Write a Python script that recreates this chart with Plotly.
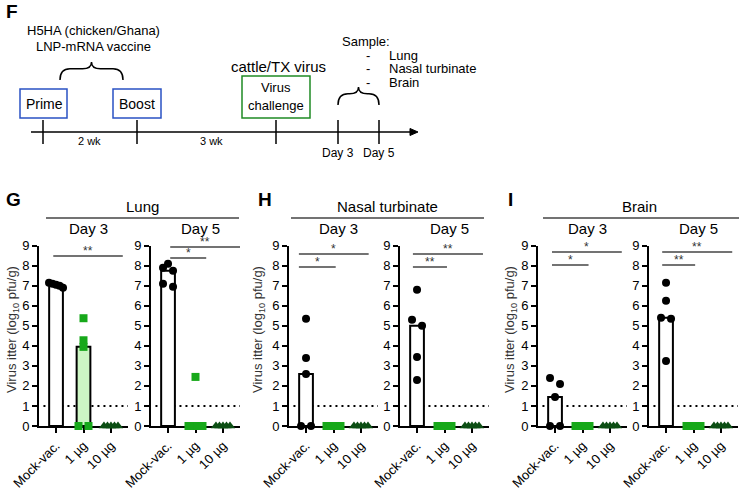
import numpy as np
import plotly.graph_objects as go

FONT = "Liberation Sans, Arial, Helvetica, sans-serif"
W, H = 739, 490

categories = ["Mock-vac.", "1 µg", "10 µg"]
tissues = ["Lung", "Nasal turbinate", "Brain"]
letters = ["G", "H", "I"]
days = ["Day 3", "Day 5"]

# log10 pfu/g per mouse
lung_d3_mock = [7.15, 7.1, 7.05, 7.0, 6.9]
lung_d3_1ug = [5.38, 4.28, 3.95, 0.0, 0.0]
lung_d3_10ug = [0.0, 0.0, 0.0, 0.0, 0.0]
lung_d5_mock = [8.1, 7.9, 7.75, 7.1, 6.95]
lung_d5_1ug = [2.45, 0.0, 0.0, 0.0, 0.0]
lung_d5_10ug = [0.0, 0.0, 0.0, 0.0, 0.0]

nasal_d3_mock = [5.35, 3.4, 2.6, 0.0, 0.0]
nasal_d3_1ug = [0.0, 0.0, 0.0, 0.0, 0.0]
nasal_d3_10ug = [0.0, 0.0, 0.0, 0.0, 0.0]
nasal_d5_mock = [6.8, 5.3, 5.0, 3.45, 2.3]
nasal_d5_1ug = [0.0, 0.0, 0.0, 0.0, 0.0]
nasal_d5_10ug = [0.0, 0.0, 0.0, 0.0, 0.0]

brain_d3_mock = [2.4, 2.1, 1.45, 0.0, 0.0]
brain_d3_1ug = [0.0, 0.0, 0.0, 0.0, 0.0]
brain_d3_10ug = [0.0, 0.0, 0.0, 0.0, 0.0]
brain_d5_mock = [7.15, 6.25, 5.4, 5.35, 3.25]
brain_d5_1ug = [0.0, 0.0, 0.0, 0.0, 0.0]
brain_d5_10ug = [0.0, 0.0, 0.0, 0.0, 0.0]

detection_limit = 1.0

# significance brackets: (label, level, x-start, x-end)
sig_lung_d3 = [("**", 8.49, -0.1, 2.43)]
sig_lung_d5 = [("**", 8.94, 0.08, 2.63), ("*", 8.39, 0.08, 1.39)]
sig_nasal_d3 = [("*", 8.59, -0.26, 2.28), ("*", 7.94, -0.26, 1.08)]
sig_nasal_d5 = [("**", 8.59, -0.15, 2.4), ("**", 7.94, -0.15, 1.09)]
sig_brain_d3 = [("*", 8.69, -0.11, 2.43), ("*", 8.04, -0.11, 1.22)]
sig_brain_d5 = [("**", 8.69, -0.14, 2.41), ("**", 8.04, -0.14, 1.06)]

panels = [
    ([lung_d3_mock, lung_d3_1ug, lung_d3_10ug], sig_lung_d3),
    ([lung_d5_mock, lung_d5_1ug, lung_d5_10ug], sig_lung_d5),
    ([nasal_d3_mock, nasal_d3_1ug, nasal_d3_10ug], sig_nasal_d3),
    ([nasal_d5_mock, nasal_d5_1ug, nasal_d5_10ug], sig_nasal_d5),
    ([brain_d3_mock, brain_d3_1ug, brain_d3_10ug], sig_brain_d3),
    ([brain_d5_mock, brain_d5_1ug, brain_d5_10ug], sig_brain_d5),
]

point_colors = ["#000000", "#17a81a", "#0c4f14"]
point_symbols = ["circle", "square", "triangle-up"]
point_sizes = [8, 8, 9]
bar_fills = ["#ffffff", "#cdf6c4", "#0c4f14"]

# layout in pixels
axis_left = [39, 151, 289, 400, 538, 649]
axis_w = 89
y_bottom, y_top = 426, 245.7
xr = (-0.62, 2.62)
unit_px = axis_w / (xr[1] - xr[0])


def px(x):
    return x / W


def py(y):
    return 1 - y / H


def spread(vals):
    # crude beeswarm: points with close values are spread sideways
    vals = np.asarray(vals, dtype=float)
    order = np.argsort(-vals, kind="stable")
    offs = np.zeros(len(vals))
    clusters, cur = [], [order[0]]
    for a, b in zip(order[:-1], order[1:]):
        if vals[a] - vals[b] < 0.32:
            cur.append(b)
        else:
            clusters.append(cur)
            cur = [b]
    clusters.append(cur)
    for c in clusters:
        n = len(c)
        if n == 1:
            continue
        if n == 3:
            pos = [0, -5, 5]
        elif n == 2:
            pos = [-5, 5]
        else:
            pos = np.linspace(-7, 7, n)
        for i, p in zip(c, pos):
            offs[i] = p / unit_px
    return offs


fig = go.Figure()
shapes = []
annotations = []

for k, (series, sigs) in enumerate(panels):
    ax = "" if k == 0 else str(k + 1)
    xa, ya = "x" + ax, "y" + ax
    medians = [float(np.median(s)) for s in series]
    fig.add_trace(
        go.Bar(
            x=[0, 1, 2],
            y=medians,
            width=0.5,
            marker=dict(color=bar_fills, line=dict(color="black", width=2)),
            xaxis=xa,
            yaxis=ya,
            showlegend=False,
            hoverinfo="skip",
        )
    )
    for g, s in enumerate(series):
        fig.add_trace(
            go.Scatter(
                x=g + spread(s),
                y=s,
                mode="markers",
                marker=dict(
                    color=point_colors[g],
                    symbol=point_symbols[g],
                    size=point_sizes[g],
                    line=dict(width=0),
                ),
                cliponaxis=False,
                xaxis=xa,
                yaxis=ya,
                showlegend=False,
            )
        )
    x0 = axis_left[k]
    fig.update_layout(
        {
            "xaxis" + ax: dict(
                domain=[px(x0), px(x0 + axis_w)],
                range=list(xr),
                tickvals=[0, 1, 2],
                ticktext=categories,
                tickangle=-45,
                ticks="outside",
                ticklen=5,
                tickwidth=2,
                tickcolor="black",
                showline=True,
                linewidth=2,
                linecolor="black",
                showgrid=False,
                zeroline=False,
                automargin=False,
                anchor=ya,
                layer="below traces",
                tickfont=dict(size=13, color="black"),
            ),
            "yaxis" + ax: dict(
                domain=[py(y_bottom), py(y_top)],
                range=[0, 9],
                tick0=0,
                dtick=1,
                ticks="outside",
                ticklen=5,
                tickwidth=2,
                tickcolor="black",
                showline=True,
                linewidth=2,
                linecolor="black",
                showgrid=False,
                zeroline=False,
                automargin=False,
                anchor=xa,
                tickfont=dict(size=13, color="black"),
            ),
        }
    )
    # limit of detection
    shapes.append(
        dict(
            type="line", xref=xa + " domain", yref=ya,
            x0=0.05, x1=1, y0=detection_limit, y1=detection_limit,
            line=dict(color="black", width=2, dash="2px,4px"), layer="below",
        )
    )
    for label, lev, s0, s1 in sigs:
        shapes.append(
            dict(type="line", xref=xa, yref=ya, x0=s0, x1=s1, y0=lev, y1=lev,
                 line=dict(color="#444444", width=1.5))
        )
        annotations.append(
            dict(xref=xa, yref=ya, x=(s0 + s1) / 2, y=lev, text=label,
                 showarrow=False, xanchor="center", yanchor="bottom", yshift=-4,
                 font=dict(size=12, color="#333333"))
        )
    # day header
    annotations.append(
        dict(xref="paper", yref="paper", x=px(x0 + 49), y=py(228), text=days[k % 2],
             showarrow=False, xanchor="center", yanchor="middle",
             font=dict(size=15, color="black"))
    )

# tissue headers, panel letters and y titles
head_lines = [(46, 239), (291, 484), (543, 739)]
head_centers = [142, 387, 639]
letter_x = [4, 256, 506]
ytitle_x = [12, 258, 510]
for i in range(3):
    shapes.append(
        dict(type="line", xref="paper", yref="paper",
             x0=px(head_lines[i][0]), x1=px(head_lines[i][1]), y0=py(218), y1=py(218),
             line=dict(color="#444444", width=1.5))
    )
    annotations.append(
        dict(xref="paper", yref="paper", x=px(head_centers[i]), y=py(207),
             text=tissues[i], showarrow=False, xanchor="center", yanchor="middle",
             font=dict(size=15, color="black"))
    )
    annotations.append(
        dict(xref="paper", yref="paper", x=px(letter_x[i]), y=py(199), xanchor="left",
             yanchor="middle", text="<b>" + letters[i] + "</b>", showarrow=False,
             font=dict(size=19, color="black"))
    )
    annotations.append(
        dict(xref="paper", yref="paper", x=px(ytitle_x[i]), y=py(330), textangle=-90,
             xanchor="center", yanchor="middle",
             text="Virus itter (log<sub>10</sub> pfu/g)", showarrow=False,
             font=dict(size=13, color="#333333"))
    )

# ---- panel F: timeline schematic ----
def text(x, y, s, size=13, anchor="center", color="black", bold=False):
    annotations.append(
        dict(xref="paper", yref="paper", x=px(x), y=py(y), xanchor=anchor,
             yanchor="middle", text="<b>%s</b>" % s if bold else s, showarrow=False,
             font=dict(size=size, color=color))
    )


def box(x0, y0, x1, y1, color):
    shapes.append(
        dict(type="rect", xref="paper", yref="paper", x0=px(x0), x1=px(x1),
             y0=py(y0), y1=py(y1), line=dict(color=color, width=1.5))
    )


def seg(x0, y0, x1, y1, width=1.5):
    shapes.append(
        dict(type="line", xref="paper", yref="paper", x0=px(x0), x1=px(x1),
             y0=py(y0), y1=py(y1), line=dict(color="black", width=width))
    )


def brace(xl, xr_, ybot, ytip):
    xm = (xl + xr_) / 2
    ymid = ybot - (ybot - ytip) * 0.62
    pts = [
        ("M", xl, ybot), ("Q", xl, ymid), ("", xl + 10, ymid), ("L", xm - 9, ymid),
        ("Q", xm, ymid), ("", xm, ytip), ("Q", xm, ymid), ("", xm + 9, ymid),
        ("L", xr_ - 10, ymid), ("Q", xr_, ymid), ("", xr_, ybot),
    ]
    path = " ".join("%s%.5f,%.5f" % (c, px(x), py(y)) for c, x, y in pts)
    shapes.append(dict(type="path", xref="paper", yref="paper", path=path,
                       line=dict(color="black", width=1.5)))


text(4, 11, "F", size=19, anchor="left", bold=True)
text(93, 31, "H5HA (chicken/Ghana)")
text(93, 46, "LNP-mRNA vaccine")
brace(60, 123, 80, 62)
box(20, 89, 67, 118, "#2a52c4")
box(113, 89, 161, 118, "#2a52c4")
text(44, 104, "Prime", size=14)
text(137, 104, "Boost", size=14)
text(278, 66, "cattle/TX virus", size=15)
box(242, 76, 310, 118, "#1f8a24")
text(276, 88, "Virus", size=13)
text(276, 105, "challenge", size=13)
seg(31, 132, 412, 132)
shapes.append(
    dict(type="path", xref="paper", yref="paper",
         path="M%.5f,%.5f L%.5f,%.5f L%.5f,%.5f Z" % (
             px(410), py(128.5), px(418), py(132), px(410), py(135.5)),
         fillcolor="black", line=dict(color="black", width=1))
)
for tx in [43, 137, 276, 338, 379]:
    seg(tx, 120, tx, 144)
text(89, 141, "2 wk", size=11)
text(211, 141, "3 wk", size=11)
text(338, 153, "Day 3", size=12)
text(379, 153, "Day 5", size=12)
text(340, 41, "Sample:", size=13, anchor="left")
for yy, item in zip([55, 68, 82], ["Lung", "Nasal turbinate", "Brain"]):
    text(364, yy, "-", size=13, anchor="left")
    text(387, yy, item, size=13, anchor="left")
brace(338, 379, 105, 87)

fig.update_layout(
    width=W,
    height=H,
    margin=dict(l=0, r=0, t=0, b=0, autoexpand=False),
    paper_bgcolor="white",
    plot_bgcolor="rgba(0,0,0,0)",
    font=dict(family=FONT, color="black"),
    shapes=shapes,
    annotations=annotations,
    showlegend=False,
    barmode="overlay",
)

# the page body has a default 8px margin; drop it so the figure sits at 0,0
fig.write_html(
    "out.html",
    config={"displayModeBar": False},
    post_script="document.body.style.margin='0';",
)
